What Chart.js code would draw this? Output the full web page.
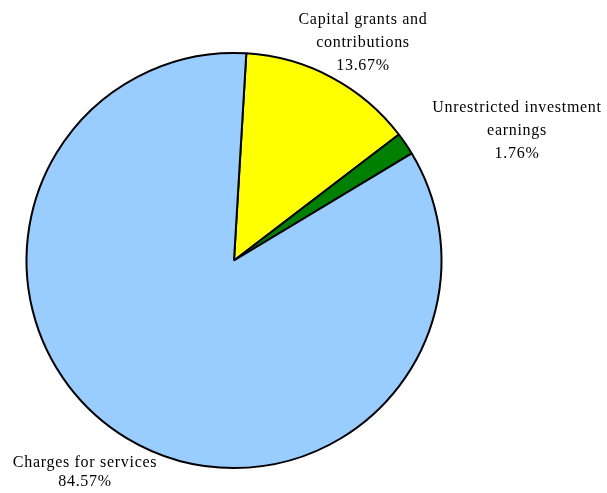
<!DOCTYPE html>
<html lang="en">
<head>
  <meta charset="UTF-8">
  <title>Revenue pie</title>
  <style>
    html, body { margin: 0; padding: 0; background: #fff; }
    #wrap { width: 607px; height: 493px; }
  </style>
</head>
<body>
  <div id="wrap"><canvas id="myChart" width="607" height="493"></canvas></div>

  <script src="https://cdn.jsdelivr.net/npm/chart.js"></script>
  <script>
    const categories = ['Capital grants and contributions', 'Unrestricted investment earnings', 'Charges for services']
    const percents = [13.67, 1.76, 84.57]
    const labelLines = [
      ['Capital grants and', 'contributions'],
      ['Unrestricted investment', 'earnings'],
      ['Charges for services']
    ]
    const colors = ['#FFFF00', '#008000', '#99CCFF']

    // where each label block sits (centre x, first line y)
    const labelSpots = [[363, 20], [517, 108], [85, 463]]

    const outsideLabels = {
      id: 'outsideLabels',
      afterDraw(chart) {
        const ctx = chart.ctx
        ctx.save()
        ctx.font = '16px "Liberation Serif", "Times New Roman", serif'
        ctx.letterSpacing = '0.7px'
        ctx.fillStyle = '#000'
        ctx.textAlign = 'center'
        ctx.textBaseline = 'middle'
        percents.forEach((p, i) => {
          const lines = labelLines[i].concat([p.toFixed(2) + '%'])
          const [x, y] = labelSpots[i]
          const h = i === 2 ? 19 : 23
          lines.forEach((t, j) => ctx.fillText(t, x, y + j * h))
        })
        ctx.restore()
      }
    }

    new Chart(document.getElementById('myChart'), {
      type: 'pie',
      data: {
        labels: categories,
        datasets: [{
          data: percents,
          backgroundColor: colors,
          borderColor: '#000',
          borderWidth: 2
        }]
      },
      options: {
        responsive: false,
        animation: false,
        rotation: 3.4,
        layout: { padding: { left: 25, right: 164, top: 52, bottom: 24 } },
        plugins: {
          legend: { display: false },
          tooltip: { enabled: false }
        }
      },
      plugins: [outsideLabels]
    });
  </script>
</body>
</html>
